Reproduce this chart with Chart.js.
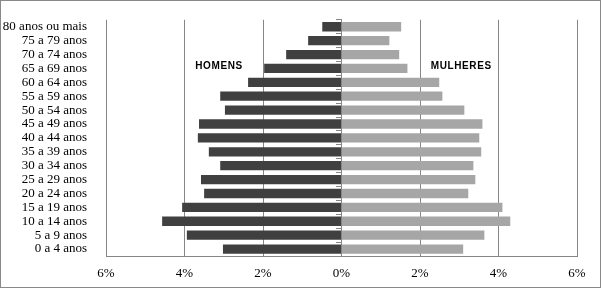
<!DOCTYPE html>
<html>
<head>
<meta charset="utf-8">
<script src="https://cdn.jsdelivr.net/npm/chart.js@4/dist/chart.umd.min.js"></script>
<style>
  html, body { margin: 0; padding: 0; background: #fff; }
  #box { width: 601px; height: 288px; box-sizing: border-box; border: 1px solid #898989; }
</style>
</head>
<body>
<div id="box"><canvas id="piramide" width="599" height="286"></canvas></div>
<script>
// faixas etarias, de cima para baixo
var faixas = ['80 anos ou mais', '75 a 79 anos', '70 a 74 anos', '65 a 69 anos', '60 a 64 anos',
  '55 a 59 anos', '50 a 54 anos', '45 a 49 anos', '40 a 44 anos', '35 a 39 anos', '30 a 34 anos',
  '25 a 29 anos', '20 a 24 anos', '15 a 19 anos', '10 a 14 anos', '5 a 9 anos', '0 a 4 anos'];
// % da populacao
var homens   = [0.49, 0.85, 1.41, 1.97, 2.38, 3.09, 2.97, 3.63, 3.66, 3.38, 3.09, 3.58, 3.50, 4.06, 4.57, 3.94, 3.02];
var mulheres = [1.52, 1.22, 1.47, 1.68, 2.49, 2.57, 3.13, 3.59, 3.51, 3.56, 3.36, 3.41, 3.23, 4.10, 4.30, 3.64, 3.10];
var xTicks = [-6, -4, -2, 0, 2, 4, 6];

var cinza = '#868686';

// rotulos HOMENS / MULHERES dentro do grafico
var rotulos = {
  id: 'rotulos',
  afterDraw: function(chart) {
    var ctx = chart.ctx, x = chart.scales.x, y = chart.scales.y;
    ctx.save();
    ctx.font = 'bold 10px "Liberation Sans", Arial, sans-serif';
    ctx.letterSpacing = '0.6px';
    ctx.fillStyle = '#000';
    ctx.textAlign = 'center';
    ctx.textBaseline = 'middle';
    var yy = y.getPixelForValue(3) - 2;
    ctx.fillText('HOMENS', x.getPixelForValue(-3.12), yy);
    ctx.fillText('MULHERES', x.getPixelForValue(3.05), yy);
    ctx.restore();
  }
};

var ctx = document.getElementById('piramide');
var grafico = new Chart(ctx, {
  type: 'bar',
  data: {
    labels: faixas,
    datasets: [
      { label: 'Homens', data: homens.map(function(v) { return -v; }), backgroundColor: '#404040',
        barPercentage: 0.67, categoryPercentage: 1 },
      { label: 'Mulheres', data: mulheres, backgroundColor: '#a6a6a6',
        barPercentage: 0.67, categoryPercentage: 1 }
    ]
  },
  options: {
    indexAxis: 'y',
    responsive: false,
    animation: false,
    layout: { padding: { left: 0, right: 23, top: 13, bottom: 0 } },
    plugins: { legend: { display: false }, tooltip: { enabled: false } },
    scales: {
      x: {
        stacked: true,
        min: -6, max: 6,
        afterBuildTicks: function(s) { s.ticks = xTicks.map(function(v) { return { value: v }; }); },
        afterFit: function(s) { s.height = 31; },
        grid: { color: cinza, drawTicks: false },
        border: { color: cinza },
        ticks: {
          padding: 10,
          color: '#000',
          font: { family: '"Liberation Serif", "Times New Roman", serif', size: 13 },
          callback: function(v) { return Math.abs(v) + '%'; }
        }
      },
      y: {
        stacked: true,
        afterFit: function(s) { s.width = 105; },
        grid: { display: false },
        border: { display: false },
        ticks: {
          autoSkip: false,
          padding: 11,
          color: '#000',
          font: { family: '"Liberation Serif", "Times New Roman", serif', size: 13 }
        }
      },
      y2: {
        axis: 'y',
        type: 'category',
        labels: faixas,
        position: { x: 0 },
        offset: true,
        grid: { offset: true, drawOnChartArea: false, tickLength: 5, color: cinza },
        border: { color: cinza },
        ticks: { display: false, autoSkip: false }
      }
    }
  },
  plugins: [rotulos]
});
</script>
</body>
</html>
